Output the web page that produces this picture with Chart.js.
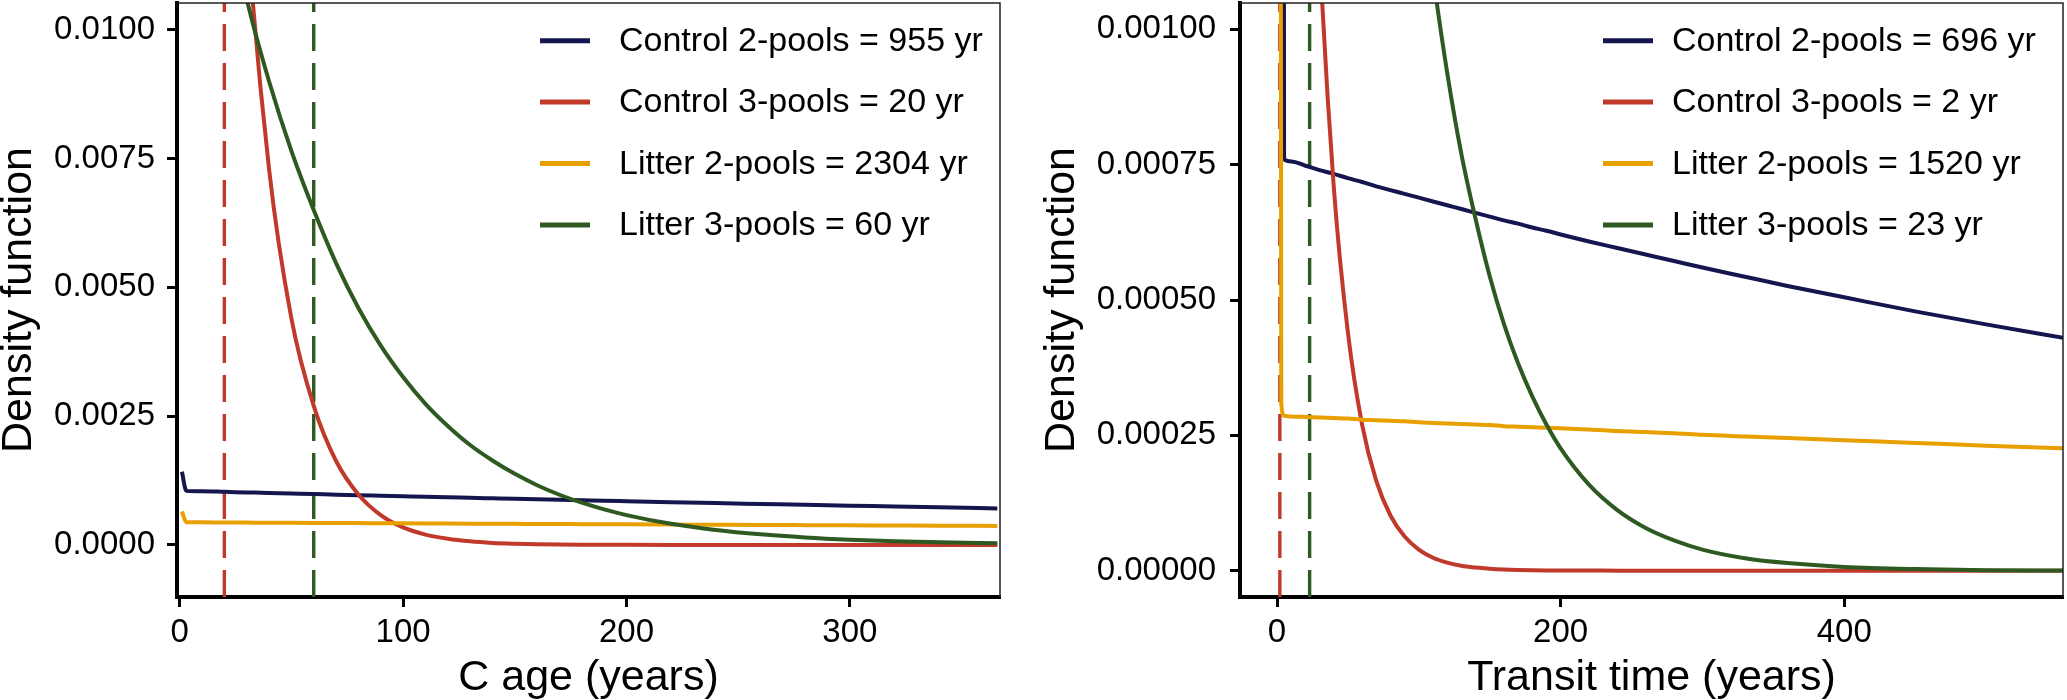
<!DOCTYPE html>
<html>
<head>
<meta charset="utf-8">
<script src="https://cdn.jsdelivr.net/npm/chart.js@4/dist/chart.umd.min.js"></script>
<style>
html,body{margin:0;padding:0;background:#fff;width:2067px;height:700px;overflow:hidden}
#c1{position:absolute;left:0;top:0}
#c2{position:absolute;left:1034px;top:0}
</style>
</head>
<body>
<canvas id="c1" width="1034" height="700"></canvas>
<canvas id="c2" width="1033" height="700"></canvas>
<script>
// ---------------- data ----------------
const seriesLabelsAge = ['Control 2-pools = 955 yr', 'Control 3-pools = 20 yr', 'Litter 2-pools = 2304 yr', 'Litter 3-pools = 60 yr'];
const seriesLabelsTransit = ['Control 2-pools = 696 yr', 'Control 3-pools = 2 yr', 'Litter 2-pools = 1520 yr', 'Litter 3-pools = 23 yr'];
const seriesColors = ['#15154f', '#c0392b', '#e89f00', '#2e5a22'];

// Panel 1: C age (years)
const ageYears = [1, 3, 10, 20, 30, 40, 50, 60, 70, 80, 90, 100, 110, 120, 130, 140, 150, 160, 170, 180, 190, 200, 220, 240, 260, 280, 300, 320, 340, 366];
const ageControl2 = [0.00142, 0.00105, 0.001042, 0.001031, 0.001020, 0.001009, 0.000998, 0.000987, 0.000977, 0.000966, 0.000956, 0.000946, 0.000936, 0.000925, 0.000916, 0.000906, 0.000896, 0.000887, 0.000877, 0.000868, 0.000858, 0.000849, 0.000831, 0.000813, 0.000796, 0.000779, 0.000763, 0.000746, 0.000730, 0.000710];
const ageControl3 = [0.06, 0.049, 0.0329, 0.0199, 0.0121, 0.0073, 0.0044, 0.0027, 0.00163, 0.00098, 0.00058, 0.00034, 0.0002, 0.00012, 0.00007, 0.00004, 0.000024, 0.000014, 0.000008, 0.000005, 0.000003, 0.000002, 0.000001, 0.0000005, 0.0000003, 0.0000002, 0.0000001, 0.0000001, 0, 0];
const ageLitter2 = [0.00065, 0.00044, 0.000439, 0.000436, 0.000434, 0.000432, 0.00043, 0.000428, 0.000426, 0.000424, 0.000422, 0.00042, 0.000418, 0.000416, 0.000414, 0.000412, 0.00041, 0.000408, 0.000406, 0.000404, 0.000402, 0.0004, 0.000396, 0.000392, 0.000389, 0.000385, 0.000381, 0.000378, 0.000374, 0.00037];
const ageLitter3 = [0.0175, 0.017, 0.0151, 0.0127, 0.0106, 0.0090, 0.00765, 0.0065, 0.00547, 0.0046, 0.00387, 0.00326, 0.00274, 0.00231, 0.00194, 0.00164, 0.00138, 0.00116, 0.000975, 0.00082, 0.00069, 0.00058, 0.00041, 0.00029, 0.000206, 0.000146, 0.000103, 0.000073, 0.000052, 0.000033];
const ageMeans = [20, 60];              // dashed lines: Control 3-pools, Litter 3-pools
const ageTicksX = [0, 100, 200, 300];
const ageTicksY = [0, 0.0025, 0.005, 0.0075, 0.01];

// Panel 2: Transit time (years)
const transitYears = [0, 3, 5, 10, 20, 30, 40, 50, 60, 70, 80, 90, 100, 110, 120, 130, 140, 150, 160, 170, 180, 190, 200, 220, 240, 260, 280, 300, 330, 360, 400, 450, 500, 555];
const transitControl2 = [0.02, 0.006, 0.00076, 0.000756, 0.000748, 0.00074, 0.000733, 0.000725, 0.000718, 0.00071, 0.000703, 0.000696, 0.000689, 0.000682, 0.000675, 0.000668, 0.000661, 0.000654, 0.000647, 0.000641, 0.000634, 0.000628, 0.000621, 0.000608, 0.000596, 0.000584, 0.000572, 0.00056, 0.000543, 0.000526, 0.000505, 0.000479, 0.000455, 0.00043];
const transitControl3 = [0.3, 0.006, 0.0045, 0.003, 0.00186, 0.00115, 0.00071, 0.00044, 0.00027, 0.000166, 0.000102, 0.000063, 0.000039, 0.000024, 0.000015, 0.000009, 0.0000057, 0.0000035, 0.0000021, 0.0000013, 0.0000008, 0.0000005, 0.0000003, 0.0000002, 0.0000001, 0, 0, 0, 0, 0, 0, 0, 0, 0];
const transitLitter2 = [0.01, 0.00031, 0.000286, 0.000285, 0.000284, 0.000283, 0.000282, 0.000281, 0.000279, 0.000278, 0.000277, 0.000276, 0.000274, 0.000273, 0.000272, 0.000271, 0.00027, 0.000269, 0.000267, 0.000266, 0.000265, 0.000264, 0.000263, 0.000261, 0.000258, 0.000256, 0.000254, 0.000251, 0.000248, 0.000245, 0.000241, 0.000236, 0.000231, 0.000226];
const transitLitter3 = [0.02, 0.0085, 0.0075, 0.0064, 0.0053, 0.0045, 0.00375, 0.00314, 0.00264, 0.00221, 0.00186, 0.00156, 0.00131, 0.0011, 0.00092, 0.00077, 0.00065, 0.000544, 0.000456, 0.000383, 0.000322, 0.00027, 0.000226, 0.000159, 0.000112, 0.000079, 0.000056, 0.000039, 0.000023, 0.000014, 0.000007, 0.000003, 0.000001, 0.0000004];
const transitMeans = [2, 23];
const transitTicksX = [0, 200, 400];
const transitTicksY = [0, 0.00025, 0.0005, 0.00075, 0.001];

// ---------------- rendering ----------------
const FONT = '"Liberation Sans", Arial, Helvetica, sans-serif';

const framePlugin = {
  id: 'frame',
  afterDatasetsDraw(chart) {
    const {ctx, chartArea: a} = chart;
    ctx.save();
    ctx.strokeStyle = '#222';
    ctx.lineWidth = 1.5;
    ctx.beginPath();
    ctx.moveTo(a.left, a.top);
    ctx.lineTo(a.right, a.top);
    ctx.lineTo(a.right, a.bottom);
    ctx.stroke();
    ctx.restore();
  }
};

const legendPlugin = {
  id: 'insideLegend',
  afterDraw(chart, args, opts) {
    const {ctx, chartArea: a} = chart;
    ctx.save();
    opts.labels.forEach((label, i) => {
      const y = a.top + opts.firstY + i * opts.stepY;
      const x0 = a.right - opts.sampleFrom;
      ctx.strokeStyle = opts.colors[i];
      ctx.lineWidth = 5;
      ctx.lineCap = 'butt';
      ctx.beginPath();
      ctx.moveTo(x0, y);
      ctx.lineTo(x0 + 50, y);
      ctx.stroke();
      ctx.fillStyle = '#000';
      ctx.font = opts.fontSize + 'px ' + FONT;
      ctx.textAlign = 'left';
      ctx.textBaseline = 'middle';
      ctx.fillText(label, a.right - opts.textFrom, y + 1);
    });
    ctx.restore();
  }
};

function pts(xs, ys) { return xs.map((x, i) => ({x: x, y: ys[i]})); }

function buildPanel(canvasId, cfg) {
  const series = [cfg.c2, cfg.c3, cfg.l2, cfg.l3];
  const datasets = [];
  // drawn order: first dataset ends on top -> put Litter 3-pools first
  for (let i = series.length - 1; i >= 0; i--) {
    datasets.push({
      label: cfg.labels[i],
      data: pts(cfg.xs, series[i]),
      borderColor: seriesColors[i],
      borderWidth: 4,
      pointRadius: 0,
      cubicInterpolationMode: 'monotone',
      fill: false,
      clip: 0
    });
  }
  const meanColors = [seriesColors[1], seriesColors[3]];
  cfg.means.forEach((m, j) => {
    datasets.push({
      label: 'mean ' + j,
      data: [{x: m, y: cfg.yMin}, {x: m, y: cfg.yMax}],
      borderColor: meanColors[j],
      borderWidth: 3.4,
      borderDash: [27, 12],
      pointRadius: 0,
      tension: 0,
      fill: false,
      clip: 0
    });
  });

  return new Chart(document.getElementById(canvasId), {
    type: 'line',
    data: {datasets: datasets},
    options: {
      responsive: false,
      devicePixelRatio: 1,
      animation: false,
      events: [],
      layout: {padding: {left: 0, right: cfg.padRight, top: 3, bottom: 0}},
      plugins: {
        legend: {display: false},
        tooltip: {enabled: false},
        insideLegend: {
          labels: cfg.labels, colors: seriesColors,
          firstY: 37.7, stepY: 61.4, sampleFrom: 460, textFrom: cfg.textFrom, fontSize: 34
        }
      },
      scales: {
        x: {
          type: 'linear',
          min: cfg.xMin, max: cfg.xMax,
          afterBuildTicks: s => { s.ticks = cfg.ticksX.map(v => ({value: v})); },
          afterFit: s => { s.height = 103; s.paddingLeft = 0; s.paddingRight = 0; },
          ticks: {
            font: {family: FONT, size: 33},
            color: '#000',
            padding: 6,
            maxRotation: 0,
            autoSkip: false,
            callback: v => String(v)
          },
          grid: {display: true, drawOnChartArea: false, drawTicks: true, tickLength: 10, tickWidth: 3, tickColor: '#000'},
          border: {display: true, color: '#000', width: 4},
          title: {display: true, text: cfg.xTitle, color: '#000', font: {family: FONT, size: 43, lineHeight: 1}, padding: {top: 0, bottom: 0}}
        },
        y: {
          type: 'linear',
          min: cfg.yMin, max: cfg.yMax,
          afterBuildTicks: s => { s.ticks = cfg.ticksY.map(v => ({value: v})); },
          afterFit: s => { s.width = cfg.yWidth; s.paddingTop = 0; s.paddingBottom = 0; },
          ticks: {
            font: {family: FONT, size: 33},
            color: '#000',
            padding: cfg.yTickPad,
            autoSkip: false,
            callback: v => v.toFixed(cfg.decimals)
          },
          grid: {display: true, drawOnChartArea: false, drawTicks: true, tickLength: 10, tickWidth: 3, tickColor: '#000'},
          border: {display: true, color: '#000', width: 4},
          title: {display: true, text: 'Density function', color: '#000', font: {family: FONT, size: 43, lineHeight: 1}, padding: {top: cfg.yTitlePad, bottom: 0}}
        }
      }
    },
    plugins: [framePlugin, legendPlugin]
  });
}

buildPanel('c1', {
  xs: ageYears, c2: ageControl2, c3: ageControl3, l2: ageLitter2, l3: ageLitter3,
  labels: seriesLabelsAge, means: ageMeans, ticksX: ageTicksX, ticksY: ageTicksY,
  xMin: -1.2, xMax: 367.2, yMin: -0.00101, yMax: 0.01052,
  xTitle: 'C age (years)', decimals: 4,
  padRight: 34, yWidth: 177, yTickPad: 12, yTitlePad: -2.5, textFrom: 381
});

buildPanel('c2', {
  xs: transitYears, c2: transitControl2, c3: transitControl3, l2: transitLitter2, l3: transitLitter3,
  labels: seriesLabelsTransit, means: transitMeans, ticksX: transitTicksX, ticksY: transitTicksY,
  xMin: -26.1, xMax: 554.3, yMin: -0.0000486, yMax: 0.0010486,
  xTitle: 'Transit time (years)', decimals: 5,
  padRight: 4, yWidth: 206, yTickPad: 14, yTitlePad: 6.5, textFrom: 391
});
</script>
</body>
</html>
